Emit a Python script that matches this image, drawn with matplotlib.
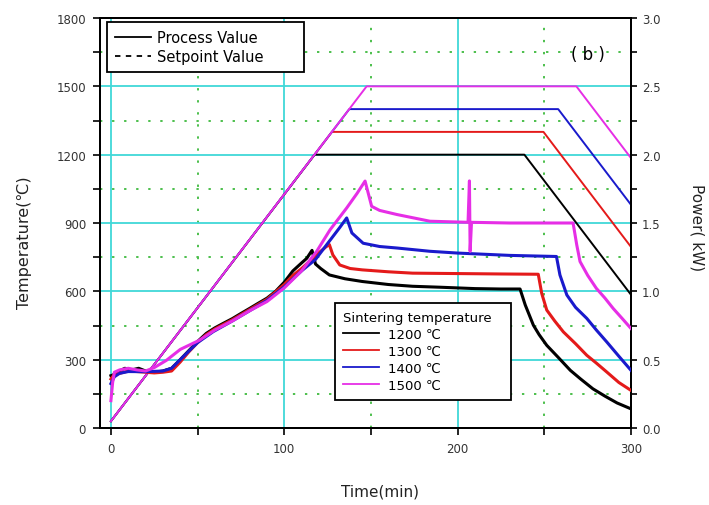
import matplotlib
matplotlib.use("Agg")
import matplotlib.pyplot as plt
from matplotlib.lines import Line2D
from matplotlib.ticker import MultipleLocator, FormatStrFormatter

plt.rcParams['font.family'] = ['DejaVu Sans']

# ---------------- data ----------------
series_names = ["1200 \u2103", "1300 \u2103", "1400 \u2103", "1500 \u2103"]
series_colors = ["#000000", "#e41a1a", "#1a1acc", "#e62ee6"]

# Setpoint programs (temperature, left axis)
sp_t_1200 = [0, 117.5, 238.5, 300]
sp_T_1200 = [30, 1200, 1200, 585]
sp_t_1300 = [0, 127.5, 249.5, 300]
sp_T_1300 = [30, 1300, 1300, 795]
sp_t_1400 = [0, 137.5, 258.0, 300]
sp_T_1400 = [30, 1400, 1400, 980]
sp_t_1500 = [0, 147.5, 268.5, 300]
sp_T_1500 = [30, 1500, 1500, 1185]

# Process power (kW, right axis)
pv_t_1200 = [0, 2, 5, 8, 12, 16, 20, 25, 30, 35, 40, 45, 50, 55, 60, 65, 70, 75, 80, 85, 90, 95,
             100, 105, 110, 113, 116, 118, 121, 126, 135, 145, 160, 174, 190, 210, 225, 236,
             239, 243.7, 247, 251.4, 258, 265, 271, 278, 285, 292, 300]
pv_P_1200 = [0.383, 0.392, 0.417, 0.437, 0.425, 0.437, 0.417, 0.408, 0.417, 0.437, 0.500, 0.567,
             0.633, 0.692, 0.733, 0.767, 0.800, 0.838, 0.875, 0.913, 0.950, 1.000, 1.067, 1.150,
             1.208, 1.242, 1.300, 1.200, 1.167, 1.120, 1.092, 1.072, 1.050, 1.037, 1.030, 1.020,
             1.017, 1.017, 0.900, 0.752, 0.683, 0.605, 0.517, 0.422, 0.358, 0.287, 0.233, 0.183,
             0.140]

pv_t_1300 = [0, 2, 5, 10, 15, 20, 25, 30, 35, 40, 45, 50, 55, 60, 70, 80, 90, 100, 105, 110, 115,
             120, 124, 126, 128, 132, 138, 145, 160, 174, 200, 225, 246.5, 248.5, 251.4, 256, 261,
             268, 274.5, 280, 286, 293, 300]
pv_P_1300 = [0.358, 0.392, 0.400, 0.417, 0.413, 0.408, 0.403, 0.408, 0.417, 0.483, 0.558, 0.625,
             0.683, 0.725, 0.792, 0.867, 0.942, 1.050, 1.117, 1.167, 1.225, 1.283, 1.325, 1.342,
             1.267, 1.193, 1.167, 1.157, 1.143, 1.133, 1.130, 1.127, 1.125, 0.985, 0.863, 0.783,
             0.703, 0.617, 0.532, 0.475, 0.410, 0.333, 0.275]

pv_t_1400 = [0, 2, 5, 10, 20, 30, 35, 41.7, 50, 59, 70, 80, 90, 100, 110, 118, 126, 132, 136, 139,
             145.5, 155, 165, 184, 200, 230, 257, 259, 263, 268, 274.5, 280, 286, 293, 300]
pv_P_1400 = [0.325, 0.375, 0.400, 0.413, 0.412, 0.417, 0.437, 0.522, 0.625, 0.705, 0.783, 0.858,
             0.933, 1.033, 1.150, 1.233, 1.367, 1.467, 1.537, 1.427, 1.352, 1.328, 1.317, 1.293,
             1.280, 1.263, 1.255, 1.120, 0.973, 0.883, 0.802, 0.717, 0.630, 0.525, 0.422]

pv_t_1500 = [0, 1, 2, 5, 10, 15, 20, 25, 32, 40, 51, 60, 70, 80, 90, 100, 110, 118.7, 126.4, 136,
             142, 146.6, 150.4, 155, 165, 184, 206, 206.8, 207.2, 208, 230, 250, 266.6, 268.7,
             270.6, 275, 280, 285, 289.7, 295, 300]
pv_P_1500 = [0.200, 0.333, 0.408, 0.425, 0.437, 0.425, 0.417, 0.442, 0.495, 0.575, 0.642, 0.717,
             0.783, 0.858, 0.925, 1.025, 1.150, 1.293, 1.450, 1.610, 1.717, 1.807, 1.622, 1.592,
             1.562, 1.513, 1.505, 1.808, 1.293, 1.505, 1.500, 1.500, 1.500, 1.340, 1.218, 1.117,
             1.022, 0.950, 0.875, 0.800, 0.728]

sp_t = [sp_t_1200, sp_t_1300, sp_t_1400, sp_t_1500]
sp_T = [sp_T_1200, sp_T_1300, sp_T_1400, sp_T_1500]
pv_t = [pv_t_1200, pv_t_1300, pv_t_1400, pv_t_1500]
pv_P = [pv_P_1200, pv_P_1300, pv_P_1400, pv_P_1500]

x_ticks = [0, 100, 200, 300]
y_ticks = [0, 300, 600, 900, 1200, 1500, 1800]
y2_ticks = [0.0, 0.5, 1.0, 1.5, 2.0, 2.5, 3.0]

# ---------------- figure ----------------
W, H = 709, 506
fig = plt.figure(figsize=(W / 100, H / 100), dpi=100)
ax = fig.add_axes([100 / W, 1 - 429 / H, 531 / W, 410 / H])
ax2 = ax.twinx()

cyan = "#40d8d8"
green = "#4cbf4c"
tick_col = "#333333"

ax.set_xlim(-6.3, 300)
ax.set_ylim(0, 1800)
ax2.set_ylim(0, 3.0)

ax.set_xticks(x_ticks)
ax.xaxis.set_minor_locator(MultipleLocator(50))
ax.set_yticks(y_ticks)
ax.yaxis.set_minor_locator(MultipleLocator(150))
ax2.set_yticks(y2_ticks)
ax2.yaxis.set_minor_locator(MultipleLocator(0.25))
ax2.yaxis.set_major_formatter(FormatStrFormatter('%.1f'))

ax.grid(which='major', color=cyan, lw=1.3, zorder=0)
ax.grid(which='minor', color=green, lw=1.4, linestyle=(0, (1.2, 5)), zorder=0)
ax.set_axisbelow(True)

for a in (ax, ax2):
    for s in a.spines.values():
        s.set_linewidth(1.4)
ax.tick_params(which='both', direction='out', length=5, width=1.2, labelsize=8.5,
               labelcolor=tick_col, pad=5, top=False, right=False)
ax2.tick_params(which='both', direction='out', length=4, width=1.2, labelsize=8.5,
                labelcolor=tick_col, pad=4)

# Setpoint programs
for t, T, c in zip(sp_t, sp_T, series_colors):
    ax.plot(t, T, color=c, lw=1.4, zorder=3)

# Process power curves
for t, P, c in zip(pv_t, pv_P, series_colors):
    ax2.plot(t, P, color=c, lw=2.2, zorder=3)

# labels
fig.text(25 / W, 1 - 243 / H, "Temperature(\u2103)", rotation=90, ha='center', va='center',
         fontsize=11.5, color="#222222")
fig.text(380 / W, 1 - 492 / H, "Time(min)", ha='center', va='center', fontsize=11,
         color="#222222")
fig.text(697 / W, 1 - 228 / H, "Power( kW)", rotation=270, ha='center', va='center',
         fontsize=11, color="#222222")
ax.text(588, 1 - 55 / H, "( b )", transform=ax.transData, fontsize=12)
ax.texts[-1].set_transform(fig.transFigure)
ax.texts[-1].set_position((588 / W, 1 - 55 / H))
ax.texts[-1].set_ha('center')
ax.texts[-1].set_va('center')

# legend 1 : line styles
h1 = [Line2D([], [], color='black', lw=1.3),
      Line2D([], [], color='black', lw=1.3, linestyle=(0, (3, 3)))]
leg1 = ax2.legend(h1, ["Process Value", "Setpoint Value"], loc='upper left',
                  bbox_to_anchor=(107 / W, 1 - 82 / H, 197 / W, 59 / H),
                  bbox_transform=fig.transFigure, mode='expand', fontsize=10.5,
                  handlelength=2.5, handletextpad=0.4, labelspacing=0.25, borderpad=0.55,
                  borderaxespad=0, fancybox=False, edgecolor='black', framealpha=1)
leg1.get_frame().set_linewidth(1.3)
leg1.set_zorder(10)
ax2.add_artist(leg1)

# legend 2 : sintering temperatures
h2 = [Line2D([], [], color=c, lw=1.3) for c in series_colors]
leg2 = ax2.legend(h2, series_names, title="Sintering temperature", loc='upper left',
                  bbox_to_anchor=(335 / W, 1 - 422 / H, 176 / W, 118 / H),
                  bbox_transform=fig.transFigure, mode='expand', fontsize=9.5,
                  title_fontsize=9.5, alignment='left',
                  handlelength=2.7, handletextpad=0.75, labelspacing=0.3, borderpad=0.6,
                  borderaxespad=0, fancybox=False, edgecolor='black', framealpha=1)
leg2.get_frame().set_linewidth(1.3)
leg2.set_zorder(10)

fig.savefig("out.png", dpi=100)
